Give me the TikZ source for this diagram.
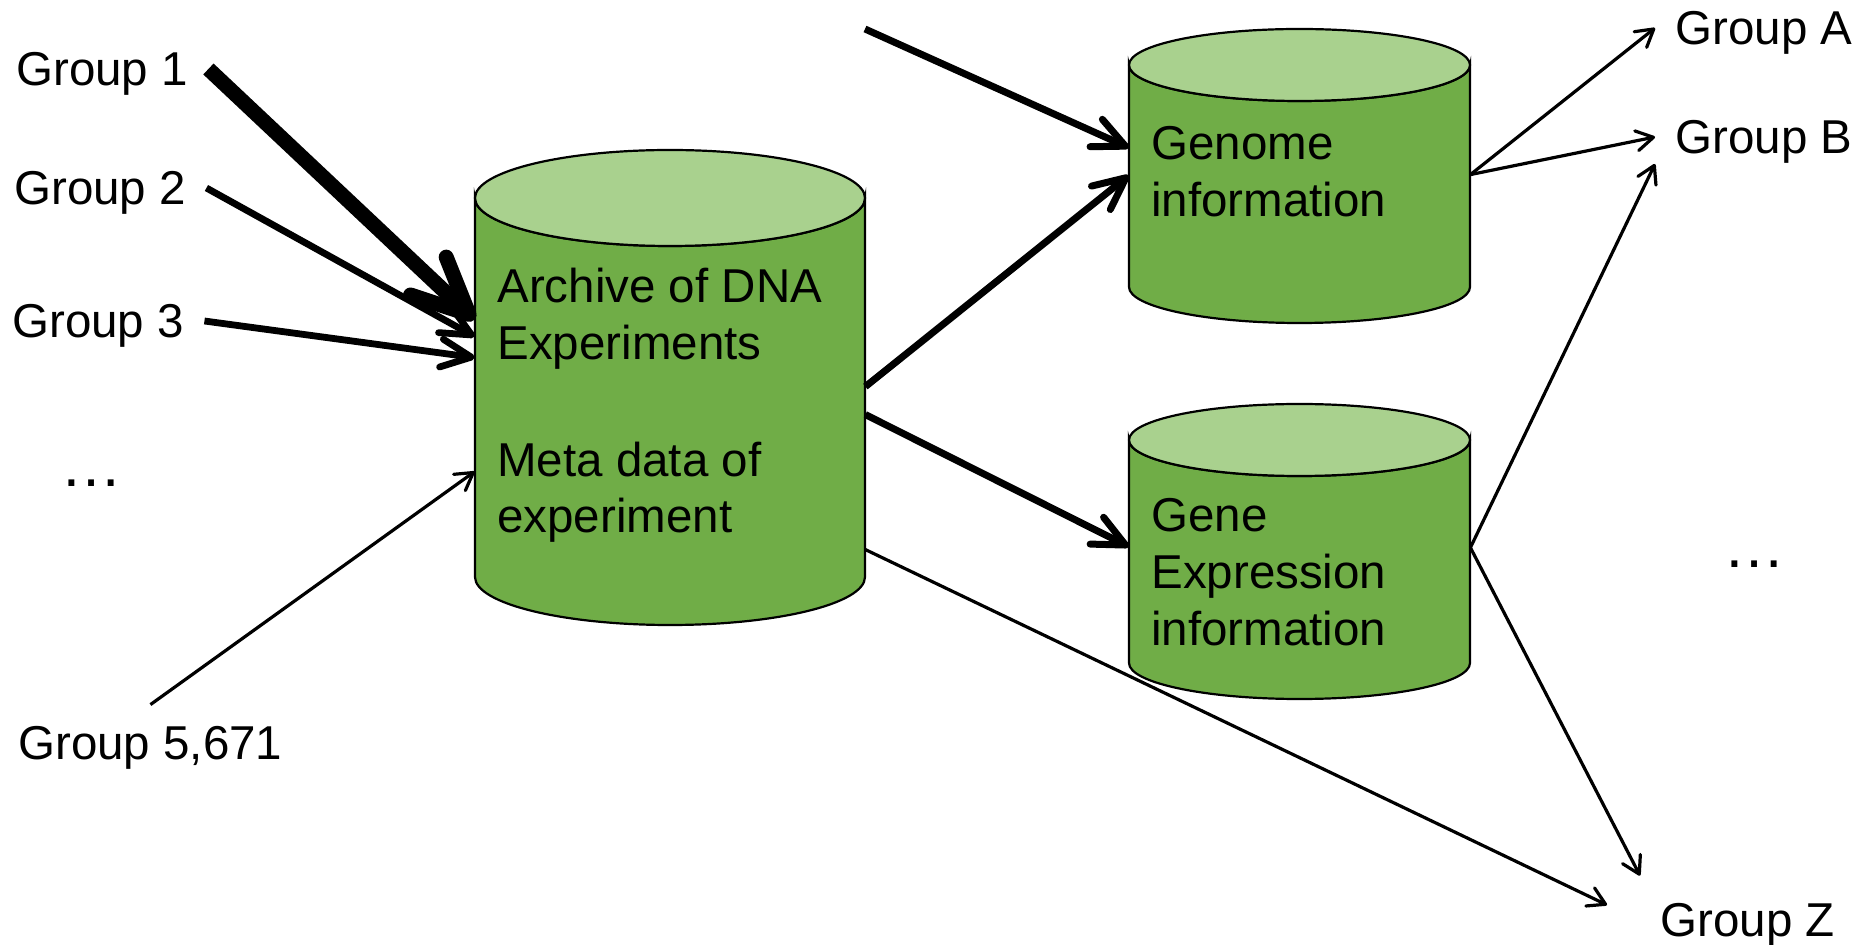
\documentclass[tikz,border=0pt]{standalone}
\usepackage{fontspec}
\setmainfont{Liberation Sans}
\usetikzlibrary{arrows.meta,calc}
\definecolor{dbbody}{HTML}{70AD47}
\definecolor{dbtop}{HTML}{A9D18E}

% database cylinder: name, centre x, top y, bottom y, x radius, y radius (y measured downwards)
\newcommand\dbcylinder[6]{%
  \filldraw[dbline, fill=dbbody] (#2-#5,-#3) -- (#2-#5,-#4)
    arc[start angle=180, end angle=360, x radius=#5, y radius=#6]
    -- (#2+#5,-#3)
    arc[start angle=0, end angle=-180, x radius=#5, y radius=#6] -- cycle;
  \filldraw[dbline, fill=dbtop] (#2,-#3) ellipse[x radius=#5, y radius=#6];
  \node[inner sep=0pt, minimum width={#5*1pt}, minimum height={(#4-#3)*0.5pt}]
    (#1) at (#2,{-(#3+#4)/2}) {};
}

\begin{document}
\begin{tikzpicture}[x=0.5pt, y=0.5pt,
  dbline/.style={line width=1.1pt, draw=black},
  txt/.style={font=\fontsize{23.75}{28.5}\selectfont, inner sep=0pt, anchor=base west},
  grp/.style={font=\fontsize{23.75}{28.5}\selectfont, inner sep=10pt, text height=17pt, text depth=0pt, anchor=base west},
  dots/.style={font=\fontsize{31}{36}\selectfont, inner sep=0pt, anchor=base west},
  heavyarrow/.style={line width=7.5pt, -{Straight Barb[length=28pt, width=26pt, round]}},
  grouparrow/.style={line width=3.4pt, -{Straight Barb[length=15pt, width=14pt, round]}},
  midarrow/.style={line width=3.5pt, -{Straight Barb[length=16pt, width=15pt, round]}},
  finearrow/.style={line width=1.6pt, -{Straight Barb[length=8.5pt, width=10pt, round]}}
]
\useasboundingbox (0,0) rectangle (1862,-945);

% storage cylinders
\dbcylinder{arch}{670}{198}{577}{195}{48}
\dbcylinder{genome}{1299.5}{65}{287}{170.5}{36}
\dbcylinder{expr}{1299.5}{440}{663}{170.5}{36}

% cylinder captions
\node[txt] (archA) at (497,-303) {Archive of DNA};
\node[txt] (archB) at (497,-360) {Experiments};
\node[txt] (archC) at (497,-477) {Meta data of};
\node[txt] (archD) at (497,-533) {experiment};
\node[txt] (genA) at (1151,-160) {Genome};
\node[txt] (genB) at (1151,-217) {information};
\node[txt] (expA) at (1151,-532) {Gene};
\node[txt] (expB) at (1151,-589) {Expression};
\node[txt] (expC) at (1151,-646) {information};

% submitting groups
\node[grp] (g1) at (-4,-86) {Group 1};
\node[grp] (g2) at (-6,-205) {Group 2};
\node[grp] (g3) at (-8,-338) {Group 3};
\node[dots] (dl) at (60,-487) {…};
\node[grp] (g5671) at (-2,-759) {Group 5,671};

% receiving groups
\node[grp] (gA) at (1655,-45) {Group A};
\node[grp] (gB) at (1655,-154) {Group B};
\node[dots] (dr) at (1723,-568) {…};
\node[grp] (gZ) at (1640,-936) {Group Z};

\coordinate (topsrc) at (865,-29);

% inflow to the archive
\draw[heavyarrow] (g1.east) -- ($(arch.north west)+(0,-122)$);
\draw[grouparrow] (g2.east) -- ($(arch.north west)+(0,-139)$);
\draw[grouparrow] (g3.east) -- ($(arch.north west)+(0,-160)$);
\draw[finearrow] (g5671.north) -- ($(arch.north west)+(0,-274)$);

% archive to derived databases
\draw[midarrow] (topsrc) -- ($(genome.north west)+(0,-83)$);
\draw[midarrow] ($(arch.north east)+(0,-189)$) -- ($(genome.north west)+(0,-111)$);
\draw[midarrow] ($(arch.north east)+(0,-217)$) -- ($(expr.north west)+(0,-107)$);
\draw[finearrow] ($(arch.north east)+(0,-352)$) -- ($(gZ.west)+(-33,14)$);

% outflow to users
\draw[finearrow] ($(genome.north east)+(0,-110)$) -- (gA.west);
\draw[finearrow] ($(genome.north east)+(0,-110)$) -- (gB.west);
\draw[finearrow] ($(expr.north east)+(0,-108)$) -- ($(gB.west)+(0,-27)$);
\draw[finearrow] ($(expr.north east)+(0,-108)$) -- ($(gZ.north west)+(0,6)$);
\end{tikzpicture}
\end{document}
